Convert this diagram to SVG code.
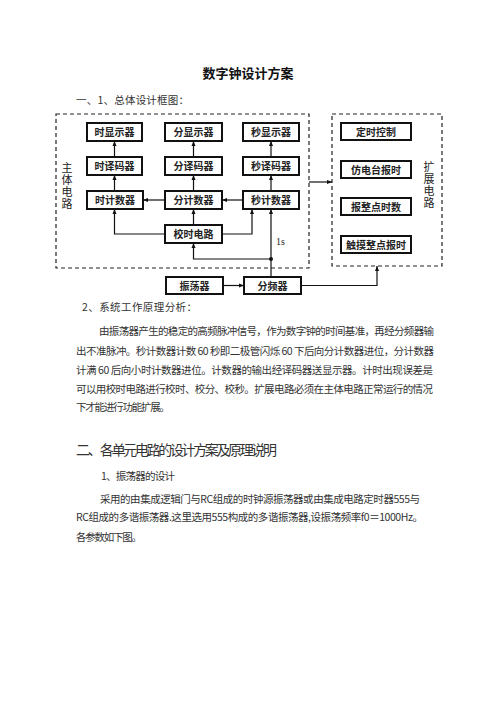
<svg xmlns="http://www.w3.org/2000/svg" width="496" height="702" viewBox="0 0 496 702">
<defs>
<marker id="ah" viewBox="0 0 10 10" refX="10" refY="5" markerWidth="5" markerHeight="5" orient="auto" markerUnits="userSpaceOnUse">
<path d="M0,1 L10,5 L0,9 z" fill="#111"/>
</marker>
</defs>
<style>
.bx{fill:#fff;stroke:#111;stroke-width:2}
.dash{fill:none;stroke:#222;stroke-width:1.2;stroke-dasharray:4 3}
.lb{font-family:"Noto Sans CJK SC","Noto Sans",sans-serif;font-size:10px;font-weight:bold;fill:#222;text-anchor:middle}
.vt{font-family:"Noto Sans CJK SC","Noto Sans",sans-serif;font-size:11px;fill:#222;writing-mode:vertical-rl;letter-spacing:1px}
.cn{fill:none;stroke:#111;stroke-width:1.2}
.body{font-family:"Noto Sans CJK SC","Liberation Serif",sans-serif;font-size:10.5px;fill:#333}
.h1{font-family:"Noto Sans CJK SC",sans-serif;font-size:13px;font-weight:bold;fill:#111;text-anchor:middle}
.h2{font-family:"Noto Sans CJK SC",sans-serif;font-size:14px;fill:#333}
</style>
<rect width="496" height="702" fill="#fff"/>
<text class="h1" x="248" y="78">数字钟设计方案</text>
<text class="body" x="76" y="104" font-size="11.5" textLength="113" lengthAdjust="spacing">一、1、总体设计框图：</text>

<rect class="dash" x="56" y="114" width="253" height="154"/>
<rect class="dash" x="332" y="114" width="110" height="152"/>
<g id="label-main">
<text class="vt" x="67" y="162">主体电路</text>
</g>
<g id="label-ext">
<text class="vt" x="429" y="161">扩展电路</text>
</g>

<g id="connectors">
<path class="cn" d="M114.5,157 V141" marker-end="url(#ah)"/>
<path class="cn" d="M114.5,191 V175" marker-end="url(#ah)"/>
<path class="cn" d="M193.5,157 V141" marker-end="url(#ah)"/>
<path class="cn" d="M193.5,191 V175" marker-end="url(#ah)"/>
<path class="cn" d="M271,157 V141" marker-end="url(#ah)"/>
<path class="cn" d="M271,191 V175" marker-end="url(#ah)"/>
<path class="cn" d="M165,200 H143" marker-end="url(#ah)"/>
<path class="cn" d="M243,200 H222" marker-end="url(#ah)"/>
<path class="cn" d="M193.5,225 V209" marker-end="url(#ah)"/>
<path class="cn" d="M165,234 H114.5 V209" marker-end="url(#ah)"/>
<path class="cn" d="M222,234 H252 V209" marker-end="url(#ah)"/>
<path class="cn" d="M271,277 V209" marker-end="url(#ah)"/>
<path class="cn" d="M271,259 H193.5 V243" marker-end="url(#ah)"/>
<circle cx="271" cy="259" r="2" fill="#111"/>
<path class="cn" d="M223,285.5 H244" marker-end="url(#ah)"/>
<path class="cn" d="M301,285.5 H377 V266" marker-end="url(#ah)"/>
<path class="cn" d="M309,182 H332" marker-end="url(#ah)"/>
<text x="276" y="245" font-family="Liberation Serif,serif" font-size="10" fill="#222">1s</text>
</g>

<g id="n-hdisp"><rect class="bx" x="87" y="123" width="55" height="18"/><text class="lb" x="114.5" y="136">时显示器</text></g>
<g id="n-hdec"><rect class="bx" x="87" y="157" width="55" height="18"/><text class="lb" x="114.5" y="170">时译码器</text></g>
<g id="n-hcnt"><rect class="bx" x="87" y="191" width="56" height="18"/><text class="lb" x="115" y="204">时计数器</text></g>
<g id="n-mdisp"><rect class="bx" x="165" y="123" width="57" height="18"/><text class="lb" x="193.5" y="136">分显示器</text></g>
<g id="n-mdec"><rect class="bx" x="165" y="157" width="57" height="18"/><text class="lb" x="193.5" y="170">分译码器</text></g>
<g id="n-mcnt"><rect class="bx" x="165" y="191" width="57" height="18"/><text class="lb" x="193.5" y="204">分计数器</text></g>
<g id="n-adj"><rect class="bx" x="165" y="225" width="57" height="18"/><text class="lb" x="193.5" y="238">校时电路</text></g>
<g id="n-sdisp"><rect class="bx" x="243" y="123" width="56" height="18"/><text class="lb" x="271" y="136">秒显示器</text></g>
<g id="n-sdec"><rect class="bx" x="243" y="157" width="56" height="18"/><text class="lb" x="271" y="170">秒译码器</text></g>
<g id="n-scnt"><rect class="bx" x="243" y="191" width="56" height="18"/><text class="lb" x="271" y="204">秒计数器</text></g>
<g id="n-timer"><rect class="bx" x="341" y="123" width="70" height="17"/><text class="lb" x="376" y="135.5">定时控制</text></g>
<g id="n-radio"><rect class="bx" x="341" y="161" width="70" height="17"/><text class="lb" x="376" y="173.5">仿电台报时</text></g>
<g id="n-hour"><rect class="bx" x="341" y="198" width="70" height="17"/><text class="lb" x="376" y="210.5">报整点时数</text></g>
<g id="n-touch"><rect class="bx" x="341" y="236" width="70" height="17"/><text class="lb" x="376" y="248.5">触摸整点报时</text></g>
<g id="n-osc"><rect class="bx" x="166" y="277" width="57" height="17"/><text class="lb" x="194.5" y="289.5">振荡器</text></g>
<g id="n-div"><rect class="bx" x="244" y="277" width="57" height="17"/><text class="lb" x="272.5" y="289.5">分频器</text></g>

<text class="body" x="82" y="311" font-size="11" textLength="115" lengthAdjust="spacing">2、系统工作原理分析：</text>
<text class="body" x="99" y="335" textLength="335" lengthAdjust="spacing">由振荡器产生的稳定的高频脉冲信号，作为数字钟的时间基准，再经分频器输</text>
<text class="body" x="76" y="355" textLength="358" lengthAdjust="spacing">出不准脉冲。秒计数器计数 60 秒即二极管闪烁 60 下后向分计数器进位，分计数器</text>
<text class="body" x="76" y="374" textLength="357" lengthAdjust="spacing">计满 60 后向小时计数器进位。计数器的输出经译码器送显示器。计时出现误差是</text>
<text class="body" x="76" y="393" textLength="357" lengthAdjust="spacing">可以用校时电路进行校时、校分、校秒。扩展电路必须在主体电路正常运行的情况</text>
<text class="body" x="76" y="411" textLength="94" lengthAdjust="spacing">下才能进行功能扩展。</text>

<text class="h2" x="76" y="455" textLength="201" lengthAdjust="spacing">二、 各单元电路的设计方案及原理说明</text>
<text class="body" x="101" y="480" font-size="11" textLength="74" lengthAdjust="spacing">1、振荡器的设计</text>
<text class="body" x="100" y="503" textLength="320" lengthAdjust="spacing">采用的由集成逻辑门与RC组成的时钟源振荡器或由集成电路定时器555与</text>
<text class="body" x="76" y="521" textLength="347" lengthAdjust="spacing">RC组成的多谐振荡器.这里选用555构成的多谐振荡器,设振荡频率f0＝1000Hz。</text>
<text class="body" x="76" y="541" textLength="66" lengthAdjust="spacing">各参数如下图。</text>
</svg>
